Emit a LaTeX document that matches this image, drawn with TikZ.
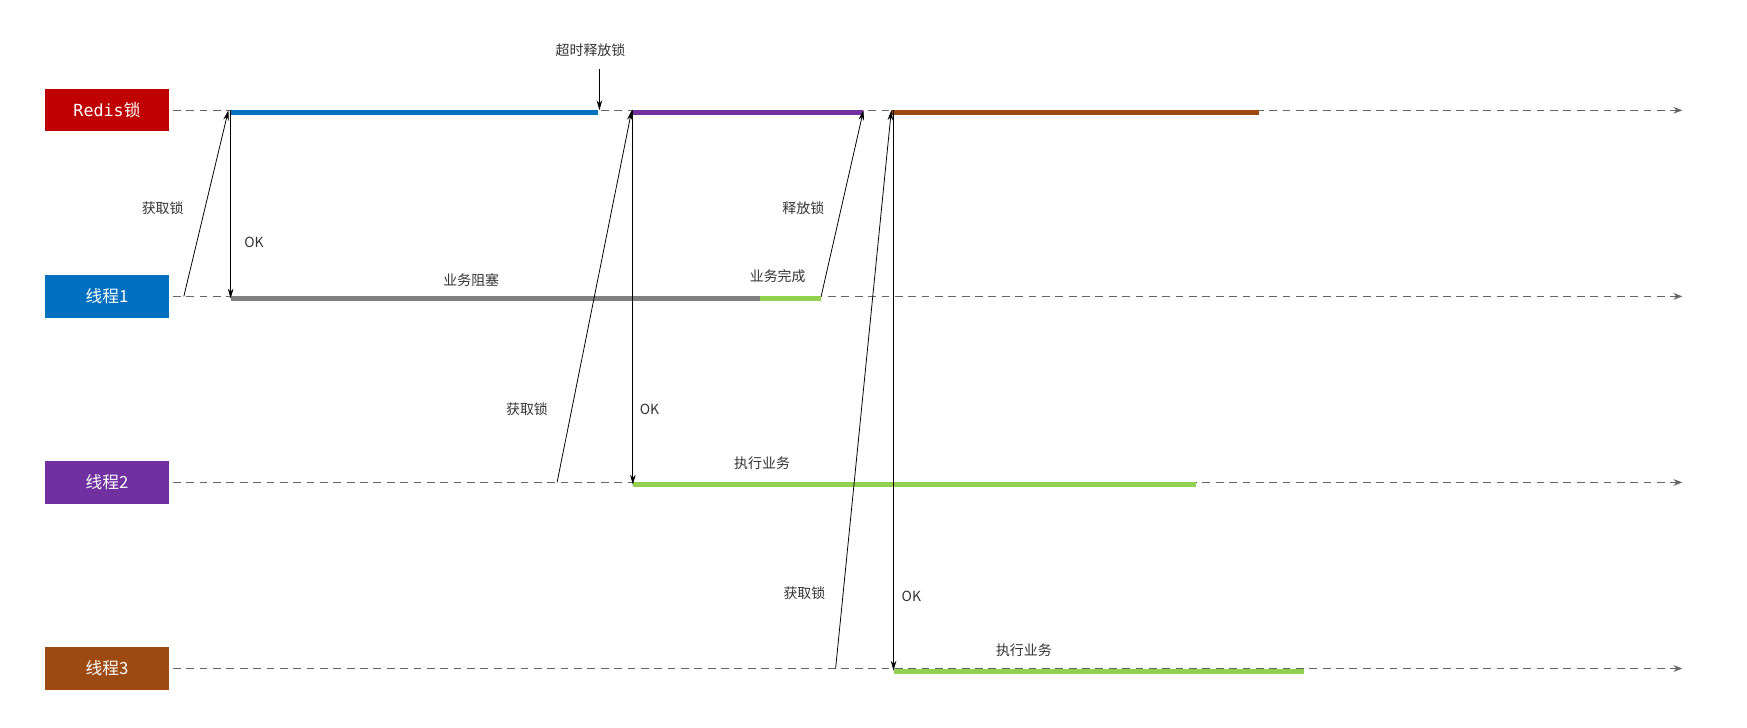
\documentclass[tikz,border=0pt]{standalone}
\usepackage{fontspec}
\setmainfont{Noto Sans CJK SC}
\newfontfamily\monof{DejaVu Sans Mono}
\usetikzlibrary{arrows.meta}
\definecolor{cred}{HTML}{C00000}
\definecolor{cblue}{HTML}{0070C0}
\definecolor{cpurple}{HTML}{7030A0}
\definecolor{cbrown}{HTML}{9C4A12}
\definecolor{cgreen}{HTML}{92D050}
\definecolor{cgray}{HTML}{808080}
\begin{document}
\begin{tikzpicture}[x=1pt,y=-1pt,
  lbox/.style={minimum width=112pt,minimum height=38pt,inner sep=0pt,text=white,font=\fontsize{15}{15}\selectfont},
  tl/.style={dashed,dash pattern=on 7pt off 5pt,gray!80!black,line width=0.9pt,-{Stealth[length=8pt,width=6pt]}},
  bar/.style={line width=4.5pt},
  msg/.style={black,line width=0.7pt,-{Stealth[length=9pt,width=5pt]}},
  lab/.style={font=\fontsize{12.5}{12.5}\selectfont,text=black!80,inner sep=1pt}]
\useasboundingbox (0,0) rectangle (1568,653);
\node[lbox,fill=cred] (r) at (96,99) {\monof Redis\normalfont 锁};
\node[lbox,fill=cblue] (t1) at (96,266) {线程1};
\node[lbox,fill=cpurple] (t2) at (96,433) {线程2};
\node[lbox,fill=cbrown] (t3) at (96,600) {线程3};
\coordinate (re) at (1510,99);
\coordinate (t1e) at (1510,266);
\coordinate (t2e) at (1510,433);
\coordinate (t3e) at (1510,600);
\draw[tl] (r.east) ++(3,0) -- (re);
\draw[tl] (t1.east) ++(3,0) -- (t1e);
\draw[tl] (t2.east) ++(3,0) -- (t2e);
\draw[tl] (t3.east) ++(3,0) -- (t3e);
% bars
\draw[bar,cblue] (207,101) -- (537,101);
\draw[bar,cpurple] (568,101) -- (775,101);
\draw[bar,cbrown] (800,101) -- (1130,101);
\draw[bar,cgray] (207,268) -- (682,268);
\draw[bar,cgreen] (682,268) -- (737,268);
\draw[bar,cgreen] (568,435) -- (1073,435);
\draw[bar,cgreen] (802,603) -- (1170,603);
% coordinates for messages
\coordinate (a1s) at (165,266); \coordinate (a1e) at (205,99);
\coordinate (o1s) at (207,99); \coordinate (o1e) at (207,268);
\coordinate (tos) at (538,62); \coordinate (toe) at (538,99);
\coordinate (a2s) at (500,433); \coordinate (a2e) at (567,99);
\coordinate (o2s) at (568,99); \coordinate (o2e) at (568,435);
\coordinate (rls) at (737,266); \coordinate (rle) at (775,99);
\coordinate (a3s) at (750,600); \coordinate (a3e) at (800,99);
\coordinate (o3s) at (802,99); \coordinate (o3e) at (802,602);
\draw[msg] (a1s) -- (a1e);
\draw[msg] (o1s) -- (o1e);
\draw[msg] (tos) -- (toe);
\draw[msg] (a2s) -- (a2e);
\draw[msg] (o2s) -- (o2e);
\draw[msg] (rls) -- (rle);
\draw[msg] (a3s) -- (a3e);
\draw[msg] (o3s) -- (o3e);
% labels
\node[lab] (l1) at (530,45) {超时释放锁};
\node[lab] (l2) at (146,187) {获取锁};
\node[lab] (l3) at (228,218) {OK};
\node[lab] (l4) at (423,251) {业务阻塞};
\node[lab] (l5) at (698,248) {业务完成};
\node[lab] (l6) at (721,187) {释放锁};
\node[lab] (l7) at (473,367) {获取锁};
\node[lab] (l8) at (583,367) {OK};
\node[lab] (l9) at (684,416) {执行业务};
\node[lab] (l10) at (722,532) {获取锁};
\node[lab] (l11) at (818,535) {OK};
\node[lab] (l12) at (919,584) {执行业务};
\end{tikzpicture}
\end{document}
